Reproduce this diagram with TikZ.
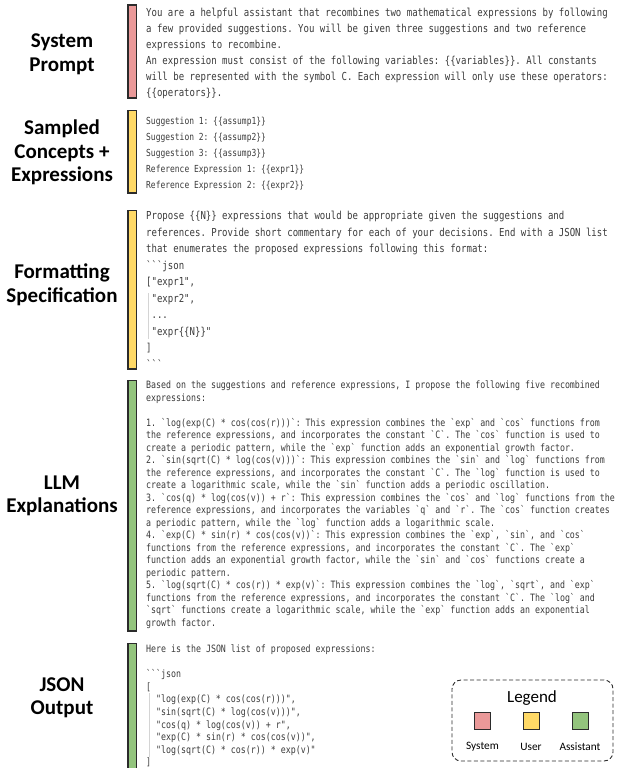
\documentclass[tikz,border=0pt]{standalone}
\usepackage{fontspec}
\setmainfont{Carlito}
\setmonofont[FakeStretch=0.82]{DejaVu Sans Mono}

\definecolor{sysfill}{HTML}{EA9999}
\definecolor{userfill}{HTML}{FFD966}
\definecolor{asstfill}{HTML}{93C47D}
\definecolor{barline}{HTML}{2B2B2B}
\definecolor{codetext}{HTML}{3A3A3A}
\definecolor{guide}{HTML}{D4D4D4}

\newcommand\ind{\hphantom{x}}

\tikzset{
  rolebar/.style={draw=barline, line width=1.1pt},
  sectionlabel/.style={font=\bfseries\fontsize{21}{23.5}\selectfont, align=center, inner sep=0pt},
  codeblock/.style={anchor=north west, inner sep=0pt, align=left, text=codetext},
  guideline/.style={draw=guide, line width=0.8pt},
  legendframe/.style={draw=barline, dash pattern=on 4pt off 2.5pt, rounded corners=9pt, line width=0.9pt},
  swatch/.style={draw=barline, line width=0.9pt, minimum width=16pt, minimum height=17pt, inner sep=0pt},
  legendtext/.style={font=\fontsize{11.3}{13}\selectfont, inner sep=0pt},
}

\begin{document}
\begin{tikzpicture}[x=1pt, y=-1pt]
\useasboundingbox (0,0) rectangle (624,768);
\clip (0,0) rectangle (624,768);

% role bars
\draw[rolebar, fill=sysfill]  (128,5)   rectangle (136.5,98);
\draw[rolebar, fill=userfill] (128,110.5) rectangle (136.5,193);
\draw[rolebar, fill=userfill] (128,210.5) rectangle (136.5,369);
\draw[rolebar, fill=asstfill] (128,380.5) rectangle (136.5,631);
\draw[rolebar, fill=asstfill] (128,643.5) rectangle (136.5,780);

% section labels
\node[sectionlabel] (lsys)  at (62,54.5)  {System\\Prompt};
\node[sectionlabel] (luser) at (62,152.5) {Sampled\\Concepts +\\Expressions};
\node[sectionlabel] (lfmt)  at (62,285)   {Formatting\\Specification};
\node[sectionlabel] (lllm)  at (62,496)   {LLM\\Explanations};
\node[sectionlabel] (ljson) at (62,698)   {JSON\\Output};

% system prompt
\node[codeblock, font=\ttfamily\fontsize{11}{16}\selectfont] (tsys) at (146,5.3) {%
\strut You are a helpful assistant that recombines two mathematical expressions by following\\
a few provided suggestions. You will be given three suggestions and two reference\\
expressions to recombine.\\
An expression must consist of the following variables: \{\{variables\}\}. All constants\\
will be represented with the symbol C. Each expression will only use these operators:\\
\{\{operators\}\}.};

% sampled concepts
\node[codeblock, font=\ttfamily\fontsize{9.7}{15.9}\selectfont] (tuser) at (146,113.4) {%
\strut Suggestion 1: \{\{assump1\}\}\\
Suggestion 2: \{\{assump2\}\}\\
Suggestion 3: \{\{assump3\}\}\\
Reference Expression 1: \{\{expr1\}\}\\
Reference Expression 2: \{\{expr2\}\}};

% formatting specification
\node[codeblock, font=\ttfamily\fontsize{11}{16.5}\selectfont] (tfmt) at (146,208) {%
\strut Propose \{\{N\}\} expressions that would be appropriate given the suggestions and\\
references. Provide short commentary for each of your decisions. End with a JSON list\\
that enumerates the proposed expressions following this format:\\
```json\\
{[}"expr1",\\
\ind"expr2",\\
\ind...\\
\ind"expr\{\{N\}\}"\\
]\\
```};
\draw[guideline] (148.5,293) -- (148.5,339);

% LLM explanations
\node[codeblock, font=\ttfamily\fontsize{10.1}{12.5}\selectfont] (tllm) at (146,379.75) {%
\strut Based on the suggestions and reference expressions, I propose the following five recombined\\
expressions:\\
\mbox{}\\
1. `log(exp(C) * cos(cos(r)))`: This expression combines the `exp` and `cos` functions from\\
the reference expressions, and incorporates the constant `C`. The `cos` function is used to\\
create a periodic pattern, while the `exp` function adds an exponential growth factor.\\
2. `sin(sqrt(C) * log(cos(v)))`: This expression combines the `sin` and `log` functions from\\
the reference expressions, and incorporates the constant `C`. The `log` function is used to\\
create a logarithmic scale, while the `sin` function adds a periodic oscillation.\\
3. `cos(q) * log(cos(v)) + r`: This expression combines the `cos` and `log` functions from the\\
reference expressions, and incorporates the variables `q` and `r`. The `cos` function creates\\
a periodic pattern, while the `log` function adds a logarithmic scale.\\
4. `exp(C) * sin(r) * cos(cos(v))`: This expression combines the `exp`, `sin`, and `cos`\\
functions from the reference expressions, and incorporates the constant `C`. The `exp`\\
function adds an exponential growth factor, while the `sin` and `cos` functions create a\\
periodic pattern.\\
5. `log(sqrt(C) * cos(r)) * exp(v)`: This expression combines the `log`, `sqrt`, and `exp`\\
functions from the reference expressions, and incorporates the constant `C`. The `log` and\\
`sqrt` functions create a logarithmic scale, while the `exp` function adds an exponential\\
growth factor.};

% JSON output
\node[codeblock, font=\ttfamily\fontsize{10.1}{12.6}\selectfont] (tjson) at (146,643.5) {%
\strut Here is the JSON list of proposed expressions:\\
\mbox{}\\
```json\\
{[}\\
\ind\ind"log(exp(C) * cos(cos(r)))",\\
\ind\ind"sin(sqrt(C) * log(cos(v)))",\\
\ind\ind"cos(q) * log(cos(v)) + r",\\
\ind\ind"exp(C) * sin(r) * cos(cos(v))",\\
\ind\ind"log(sqrt(C) * cos(r)) * exp(v)"\\
]};
\draw[guideline] (149,693) -- (149,757);

% legend
\node[legendframe, minimum width=161pt, minimum height=81pt, inner sep=0pt] (legend) at (532.5,720.5) {};
\node[font=\fontsize{17}{20}\selectfont, inner sep=0pt] (legendtitle) at (532,698) {Legend};
\node[swatch, fill=sysfill]  (ksys)  at (482.5,720.5) {};
\node[swatch, fill=userfill] (kuser) at (531,720.5) {};
\node[swatch, fill=asstfill] (kasst) at (580,720.5) {};
\node[legendtext] (nsys)  at (482.5,747) {System};
\node[legendtext] (nuser) at (531,747) {User};
\node[legendtext] (nasst) at (580,747) {Assistant};
\end{tikzpicture}
\end{document}
